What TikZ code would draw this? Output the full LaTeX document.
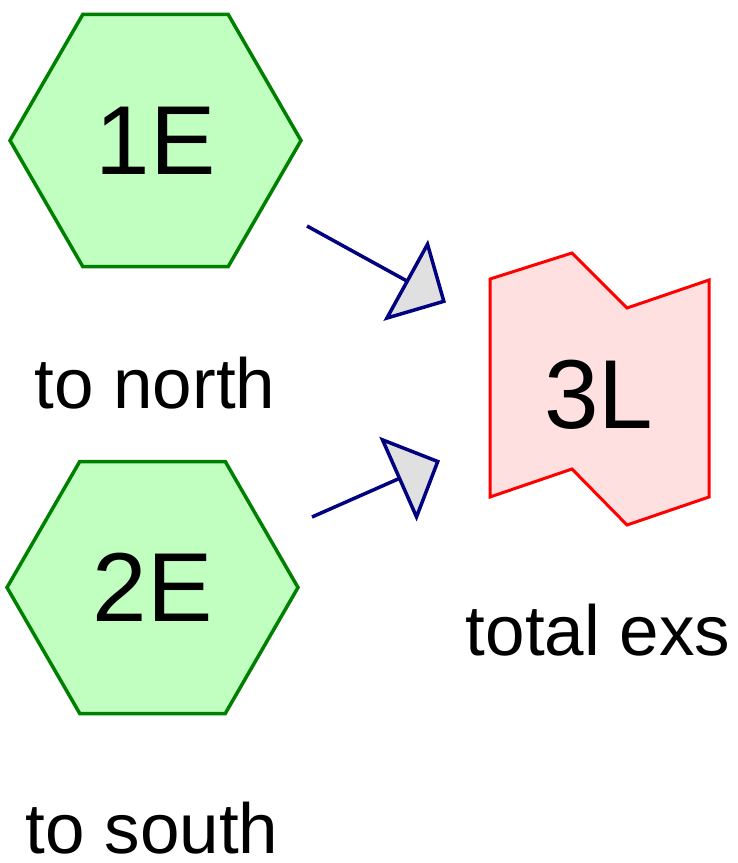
\documentclass[tikz,border=0pt]{standalone}
\usepackage{fontspec}
\setmainfont{Liberation Sans}
\usetikzlibrary{shapes.geometric,arrows.meta}
\definecolor{hexfill}{HTML}{C0FFC0}
\definecolor{hexline}{HTML}{008000}
\definecolor{tapefill}{HTML}{FFE0E0}
\definecolor{tapeline}{HTML}{FF0000}
\definecolor{arrline}{HTML}{000080}
\definecolor{arrfill}{HTML}{E0E0E0}
\tikzset{
  hexnode/.style={regular polygon, regular polygon sides=6, shape border rotate=0,
    minimum size=291pt, inner sep=0pt, draw=hexline, fill=hexfill, line width=3.5pt,
    font=\fontsize{98}{110}\selectfont},
  lbl/.style={anchor=base, inner sep=0pt, font=\fontsize{71}{80}\selectfont},
  bigtext/.style={anchor=base, inner sep=0pt, font=\fontsize{98}{110}\selectfont},
  conn/.style={draw=arrline, line width=3.5pt,
    -{Triangle[length=46pt, width=92pt, fill=arrfill]}},
}
\begin{document}
\begin{tikzpicture}[x=1pt, y=-1pt]
\useasboundingbox (0,0) rectangle (738,863);
% hexagons
\node[hexnode] (n1) at (155.5,140.5) {\raisebox{-5pt}{1E}};
\node[hexnode] (n2) at (152.5,587.5) {\raisebox{-4pt}{2E}};
% 3L shape
\draw[draw=tapeline, fill=tapefill, line width=3pt, line join=miter]
  (490,279) -- (572,253) -- (627,308) -- (709,280) -- (709,497)
  -- (627,525) -- (572,469) -- (490,497) -- cycle;
\node[bigtext] (n3) at (599,428) {3L};
% labels
\node[lbl] (l1) at (155,408) {to north};
\node[lbl] (l2) at (152,853) {to south};
\node[lbl] (l3) at (598,655) {total exs};
% connectors
\coordinate (s1) at (307,226);
\coordinate (t1) at (446,302.5);
\coordinate (s2) at (312,517);
\coordinate (t2) at (440,460.5);
\draw[conn] (s1) -- (t1);
\draw[conn] (s2) -- (t2);
\end{tikzpicture}
\end{document}
